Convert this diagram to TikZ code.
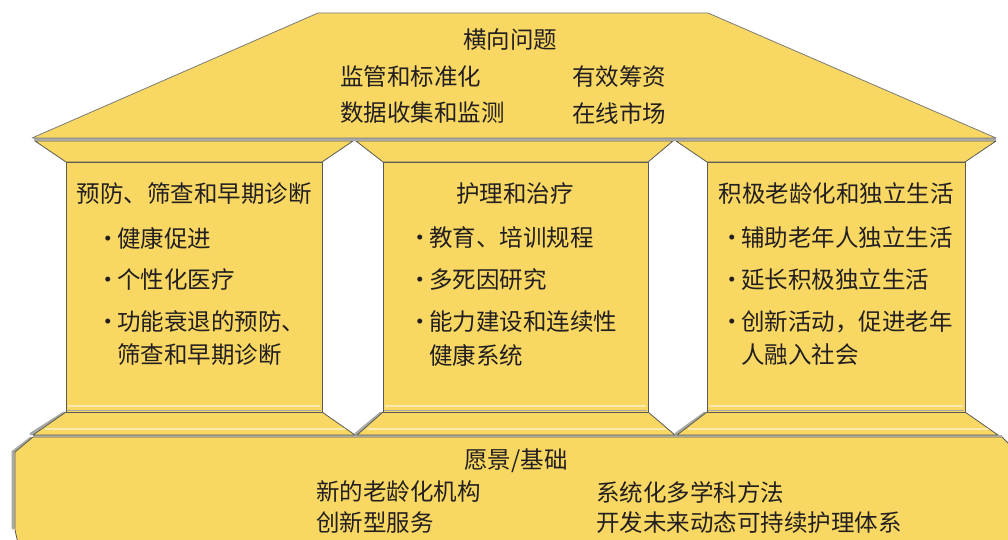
\documentclass[tikz,border=0pt]{standalone}
\usepackage{fontspec}
\setmainfont{Noto Sans CJK SC}
\definecolor{yel}{HTML}{F8D862}
\definecolor{edge}{HTML}{5A5A55}
\definecolor{bev}{HTML}{A8A8A4}
\definecolor{hil}{HTML}{FBEBAE}
\definecolor{ink}{HTML}{231F20}
\newcommand{\bul}{\makebox[22pt][l]{\hspace{1pt}·}}
\begin{document}
\begin{tikzpicture}[x=1pt,y=-1pt,
  part/.style={fill=yel, draw=edge, line width=0.8pt, line join=round},
  txt/.style={inner sep=0pt, text=ink, font=\fontsize{23.5}{28}\selectfont},
  lt/.style={txt, anchor=west},
  bevel/.style={draw=bev, line width=3pt, line cap=round},
  hl/.style={draw=hil, line width=2pt}]
\useasboundingbox (0,0) rectangle (1008,540);
% ---- base ----
\draw[bevel] (31,438) -- (13,452) -- (13,528);
\draw[part] (33,437) -- (1002,437) -- (1012,447) -- (1012,552) -- (20,552) -- (15,530) -- (15,452) -- cycle;
\draw[draw=bev, line width=2pt] (33,436) -- (1002,436);
% ---- plinths ----
\draw[bevel] (64,413) -- (31,434);
\draw[bevel] (381,413) -- (356,434);
\draw[bevel] (705,413) -- (676,434);
\draw[part] (66,412) -- (322,412) -- (355,435) -- (33,435) -- cycle;
\draw[part] (383,412) -- (648,412) -- (675,435) -- (357,435) -- cycle;
\draw[part] (707,412) -- (965,412) -- (998,435) -- (677,435) -- cycle;
\draw[hl] (45,429) -- (345,429);
\draw[hl] (367,429) -- (666,429);
\draw[hl] (688,429) -- (988,429);
% ---- pillars ----
\draw[part] (66,162) rectangle (322,412);
\draw[part] (383,162) rectangle (648,412);
\draw[part] (707,162) rectangle (965,412);
\draw[hl] (68,406) -- (320,406);
\draw[hl] (385,406) -- (646,406);
\draw[hl] (709,406) -- (963,406);
\draw[draw=bev, line width=1.5pt] (67,410.5) -- (321,410.5);
\draw[draw=bev, line width=1.5pt] (384,410.5) -- (647,410.5);
\draw[draw=bev, line width=1.5pt] (708,410.5) -- (964,410.5);
% ---- capitals ----
\draw[part] (35,141) -- (353,141) -- (322,162) -- (66,162) -- cycle;
\draw[part] (356,141) -- (673,141) -- (648,162) -- (383,162) -- cycle;
\draw[part] (676,141) -- (996,141) -- (965,162) -- (707,162) -- cycle;
% ---- roof ----
\draw[draw=bev, line width=3pt] (34,140) -- (996,140);
\draw[part, draw=edge!80] (32,138) -- (318,13) -- (708,13) -- (996,138) -- cycle;
% ---- roof text ----
\node[txt] (rooft) at (510,40) {横向问题};
\node[lt] (r1) at (340,77) {监管和标准化};
\node[lt] (r2) at (572,77) {有效筹资};
\node[lt] (r3) at (340,113) {数据收集和监测};
\node[lt] (r4) at (572,113) {在线市场};
% ---- left pillar ----
\node[txt] (lt0) at (194,194) {预防、筛查和早期诊断};
\node[lt] (lt1) at (95,238) {\bul 健康促进};
\node[lt] (lt2) at (95,280) {\bul 个性化医疗};
\node[lt] (lt3) at (95,322) {\bul 功能衰退的预防、};
\node[lt] (lt4) at (117,355) {筛查和早期诊断};
% ---- middle pillar ----
\node[txt] (mt0) at (515,194) {护理和治疗};
\node[lt] (mt1) at (407,238) {\bul 教育、培训规程};
\node[lt] (mt2) at (407,280) {\bul 多死因研究};
\node[lt] (mt3) at (407,322) {\bul 能力建设和连续性};
\node[lt] (mt4) at (429,355) {健康系统};
% ---- right pillar ----
\node[txt] (rt0) at (836,194) {积极老龄化和独立生活};
\node[lt] (rt1) at (719,238) {\bul 辅助老年人独立生活};
\node[lt] (rt2) at (719,280) {\bul 延长积极独立生活};
\node[lt] (rt3) at (719,322) {\bul 创新活动，促进老年};
\node[lt] (rt4) at (741,355) {人融入社会};
% ---- base text ----
\node[txt] (bt0) at (516,461) {愿景/基础};
\node[lt] (b1) at (316,492) {新的老龄化机构};
\node[lt] (b2) at (596,492) {系统化多学科方法};
\node[lt] (b3) at (316,523) {创新型服务};
\node[lt] (b4) at (596,523) {开发未来动态可持续护理体系};
\end{tikzpicture}
\end{document}
